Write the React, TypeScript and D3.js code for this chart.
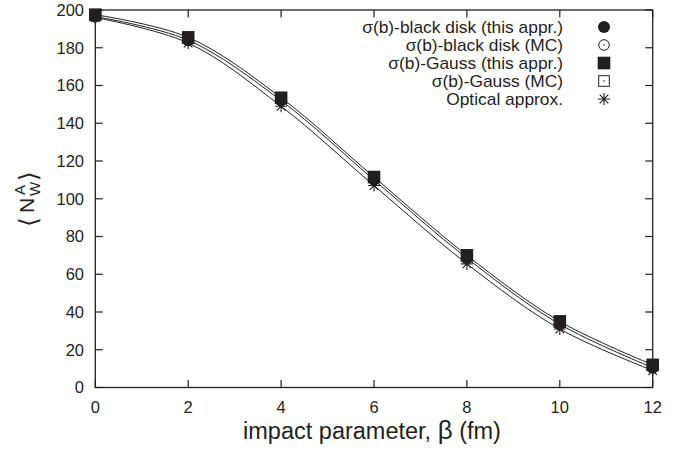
import React from "react";
import * as d3 from "d3";

// impact parameter (fm)
const impact = [0, 2, 4, 6, 8, 10, 12];

// <N_W^A> values
const diskThis = [196.5, 184, 152, 110, 68.5, 33.5, 10.5];
const diskMC = [196.5, 184, 152, 110.5, 68.5, 33.5, 10.5];
const gaussThis = [197.5, 185.5, 153.5, 111.5, 70, 35, 12];
const gaussMC = [197.5, 185.5, 153.5, 111.5, 70, 35, 12];
const optical = [196, 182.5, 149, 107, 65.5, 31, 9];

const xTicks = [0, 2, 4, 6, 8, 10, 12];
const yTicks = [0, 20, 40, 60, 80, 100, 120, 140, 160, 180, 200];

const legendLabels = [
  "σ(b)-black disk (this appr.)",
  "σ(b)-black disk (MC)",
  "σ(b)-Gauss (this appr.)",
  "σ(b)-Gauss (MC)",
  "Optical approx.",
];

const W = 687,
  H = 452;
const plot = { left: 95.3, right: 652.7, top: 10, bottom: 387.5 };
const ink = "#231f20";
const font = "'Liberation Sans', Arial, Helvetica, sans-serif";

const x = d3.scaleLinear().domain([0, 12]).range([plot.left, plot.right]);
const y = d3.scaleLinear().domain([0, 200]).range([plot.bottom, plot.top]);

const line = d3
  .line<number>()
  .x((d, i) => x(impact[i]))
  .y((d) => y(d))
  .curve(d3.curveCatmullRom.alpha(0.5));

type Kind = "disk" | "circle" | "square" | "box" | "star";

const Marker = ({ kind, cx, cy }: { kind: Kind; cx: number; cy: number }) => {
  if (kind === "disk") return <circle cx={cx} cy={cy} r={6} fill={ink} />;
  if (kind === "circle")
    return (
      <g>
        <circle cx={cx} cy={cy} r={5.3} fill="none" stroke={ink} strokeWidth={1} />
        <circle cx={cx} cy={cy} r={0.8} fill={ink} />
      </g>
    );
  if (kind === "square")
    return <rect x={cx - 6.3} y={cy - 6.3} width={12.6} height={12.6} fill={ink} />;
  if (kind === "box")
    return (
      <g>
        <rect x={cx - 5.3} y={cy - 5.3} width={10.6} height={10.6} fill="none" stroke={ink} strokeWidth={1} />
        <circle cx={cx} cy={cy} r={0.8} fill={ink} />
      </g>
    );
  const s = 6;
  const d = s * 0.72;
  return (
    <path
      d={`M${cx - s},${cy}H${cx + s}M${cx},${cy - s}V${cy + s}M${cx - d},${cy - d}L${cx + d},${cy + d}M${cx - d},${cy + d}L${cx + d},${cy - d}`}
      stroke={ink}
      strokeWidth={1.1}
      fill="none"
    />
  );
};

const seriesList: { values: number[]; kind: Kind }[] = [
  { values: diskThis, kind: "disk" },
  { values: diskMC, kind: "circle" },
  { values: gaussThis, kind: "square" },
  { values: gaussMC, kind: "box" },
  { values: optical, kind: "star" },
];

const legendRows = [27, 45, 63, 81, 99];

export default function App() {
  const tick = 7.5;
  return (
    <svg
      width={W}
      height={H}
      style={{ position: "absolute", left: 0, top: 0, background: "#fff" }}
      fontFamily={font}
    >
      <rect width={W} height={H} fill="#fff" />

      {/* curves */}
      {[gaussThis, diskThis, optical].map((vals, i) => (
        <path key={i} d={line(vals) || ""} fill="none" stroke={ink} strokeWidth={1} />
      ))}

      {/* frame + mirrored ticks */}
      <rect
        x={plot.left}
        y={plot.top}
        width={plot.right - plot.left}
        height={plot.bottom - plot.top}
        fill="none"
        stroke={ink}
        strokeWidth={1.3}
      />
      {xTicks.map((t) => (
        <g key={"x" + t}>
          <line x1={x(t)} x2={x(t)} y1={plot.bottom} y2={plot.bottom - tick} stroke={ink} strokeWidth={1.2} />
          <line x1={x(t)} x2={x(t)} y1={plot.top} y2={plot.top + tick} stroke={ink} strokeWidth={1.2} />
          <text x={x(t)} y={412.5} textAnchor="middle" fontSize={16.5} fill={ink}>
            {t}
          </text>
        </g>
      ))}
      {yTicks.map((t) => (
        <g key={"y" + t}>
          <line x1={plot.left} x2={plot.left + tick} y1={y(t)} y2={y(t)} stroke={ink} strokeWidth={1.2} />
          <line x1={plot.right} x2={plot.right - tick} y1={y(t)} y2={y(t)} stroke={ink} strokeWidth={1.2} />
          <text x={84} y={y(t) + 5.8} textAnchor="end" fontSize={16.5} fill={ink}>
            {t}
          </text>
        </g>
      ))}

      {/* markers */}
      {seriesList.map((s, si) =>
        s.values.map((v, i) => <Marker key={si + "-" + i} kind={s.kind} cx={x(impact[i])} cy={y(v)} />)
      )}

      {/* legend */}
      {legendLabels.map((lab, i) => (
        <g key={"l" + i}>
          <text
            transform={`translate(563,${legendRows[i] + 5.5}) scale(1.1,1)`}
            textAnchor="end"
            fontSize={15.8}
            fill={ink}
          >
            {lab}
          </text>
          <Marker kind={seriesList[i].kind} cx={604} cy={legendRows[i]} />
        </g>
      ))}

      {/* axis titles */}
      <text x={372} y={439} textAnchor="middle" fontSize={23.5} fill={ink}>
        impact parameter, <tspan fontSize={26}>β</tspan> (fm)
      </text>
      <g transform="rotate(-90)" fill={ink}>
        <text x={-227} y={37} fontSize={25} fontFamily="'DejaVu Sans', sans-serif">
          ⟨
        </text>
        <text x={-213} y={34} fontSize={21}>
          N
        </text>
        <text x={-196} y={39.5} fontSize={15}>
          W
        </text>
        <text x={-195} y={25} fontSize={15}>
          A
        </text>
        <text x={-181} y={37} fontSize={25} fontFamily="'DejaVu Sans', sans-serif">
          ⟩
        </text>
      </g>
    </svg>
  );
}
